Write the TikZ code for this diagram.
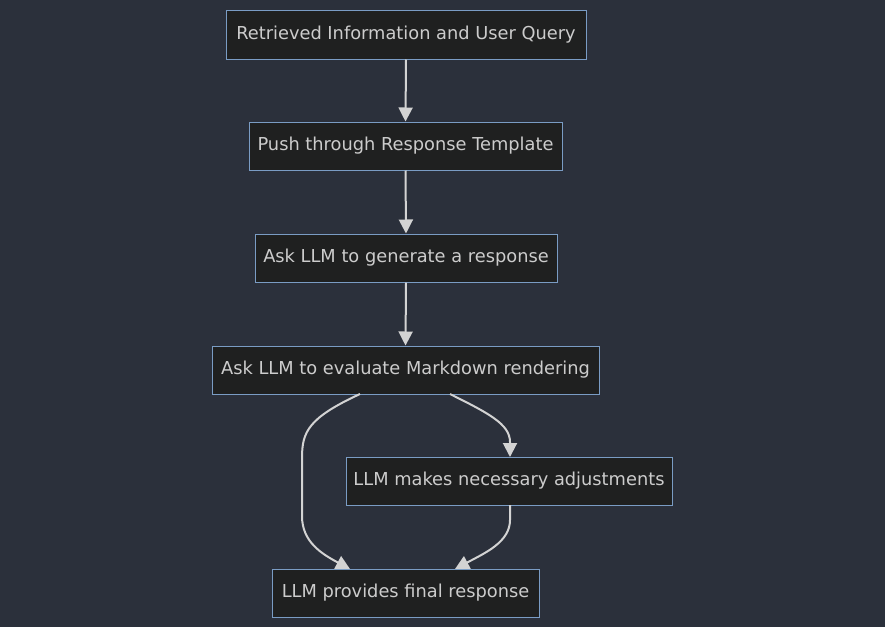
\documentclass[tikz,border=0pt]{standalone}
\usepackage{fontspec}
\setmainfont{DejaVu Sans}
\usetikzlibrary{arrows.meta}
\definecolor{bg}{HTML}{2B303B}
\definecolor{nodefill}{HTML}{1F2020}
\definecolor{nodeborder}{HTML}{7A9CC4}
\definecolor{txt}{HTML}{CCCCCC}
\definecolor{edge}{HTML}{D3D3D3}
\tikzset{
  box/.style={draw=nodeborder, fill=nodefill, line width=1pt, text=txt,
    font=\fontsize{17.8}{21}\selectfont, inner sep=0pt, anchor=center},
  link/.style={draw=edge, line width=2pt, -{Triangle[length=14pt,width=14pt]}}
}
\begin{document}
\begin{tikzpicture}[x=1pt,y=-1pt]
\useasboundingbox[fill=bg] (0,0) rectangle (885,627);
\node[box, minimum width=360, minimum height=49] (n1) at (406,34.5) {Retrieved Information and User Query};
\node[box, minimum width=313, minimum height=48] (n2) at (405.5,146) {Push through Response Template};
\node[box, minimum width=302, minimum height=48] (n3) at (406,258) {Ask LLM to generate a response};
\node[box, minimum width=387, minimum height=48] (n4) at (405.5,370) {Ask LLM to evaluate Markdown rendering};
\node[box, minimum width=326, minimum height=48] (n5) at (509,481) {LLM makes necessary adjustments};
\node[box, minimum width=267, minimum height=48] (n6) at (405.5,593) {LLM provides final response};
\draw[link] (n1.south) -- (n2.north);
\draw[link] (n2.south) -- (n3.north);
\draw[link] (n3.south) -- (n4.north);
\coordinate (a4r) at (450,394);
\coordinate (a5t) at (510,457);
\coordinate (a4l) at (360,394);
\coordinate (a6l) at (350,569);
\coordinate (a5b) at (510,505);
\coordinate (a6r) at (455,569);
\draw[link] (a4r) .. controls (488,413) and (510,424) .. (510,442) -- (a5t);
\draw[link] (a4l) .. controls (308,418) and (302,432) .. (302,458) -- (302,516) .. controls (302,542) and (322,554) .. (a6l);
\draw[link] (a5b) -- (510,520) .. controls (510,542) and (485,553) .. (a6r);
\end{tikzpicture}
\end{document}
